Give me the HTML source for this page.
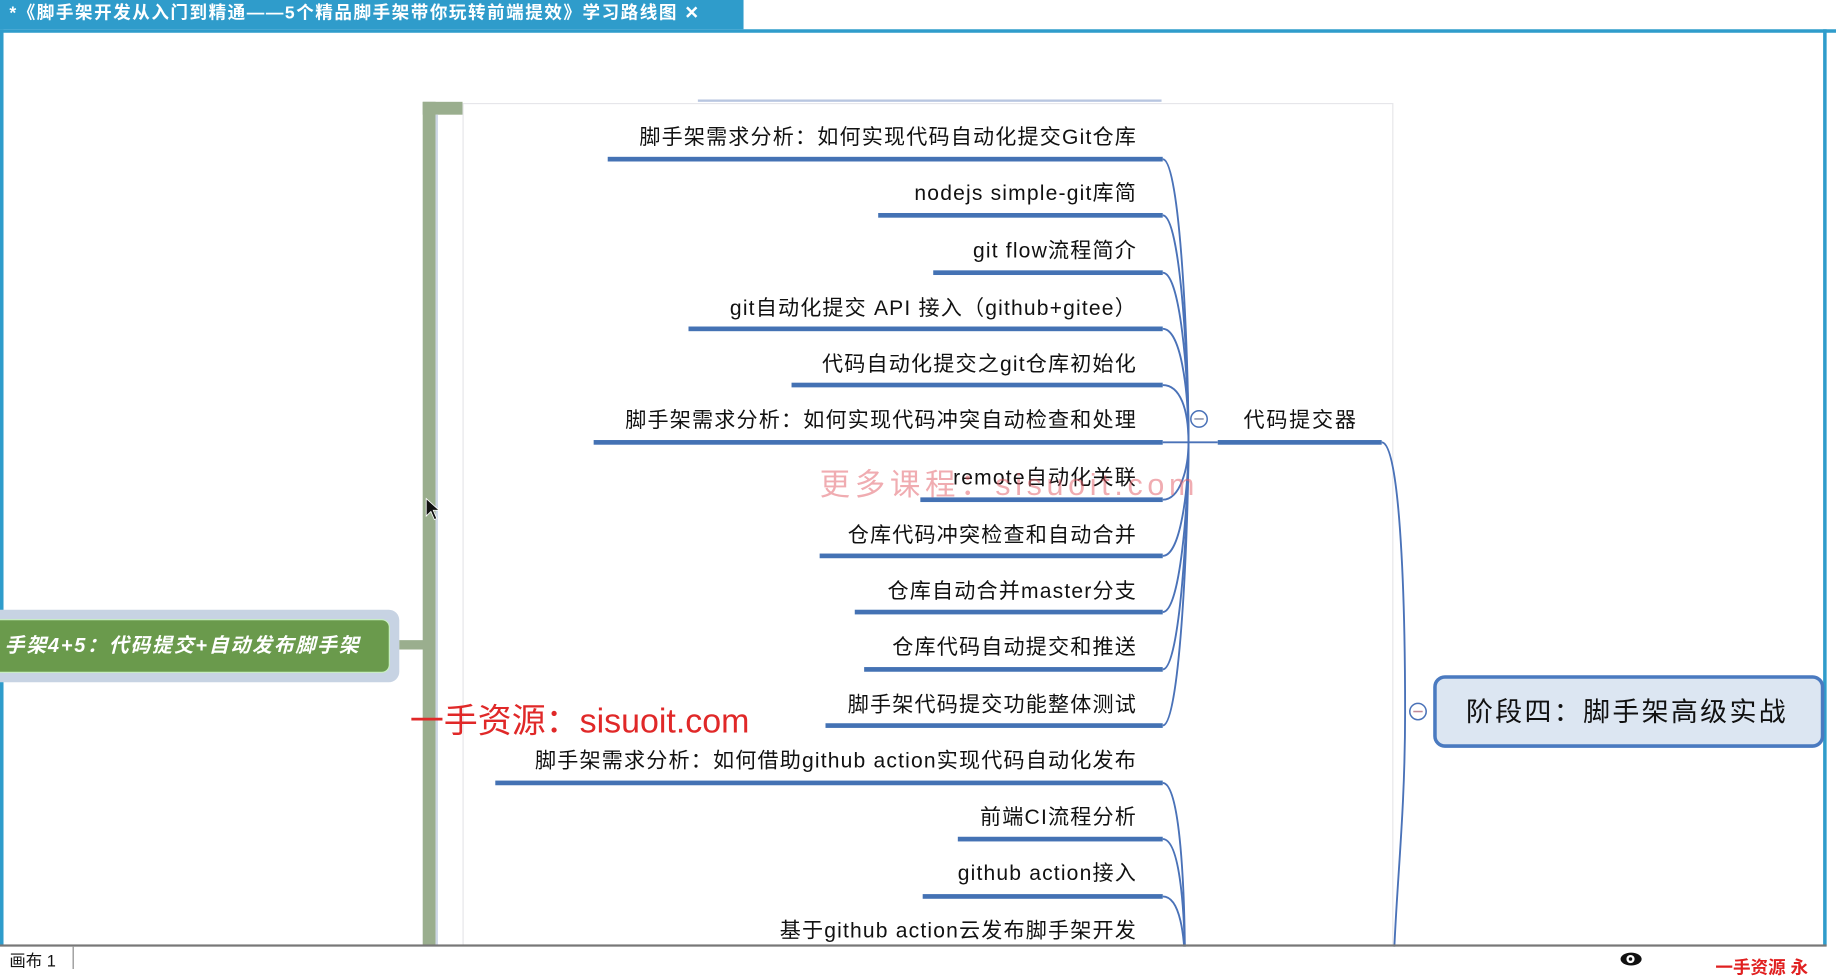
<!DOCTYPE html>
<html><head><meta charset="utf-8">
<style>
html,body{margin:0;padding:0;width:1836px;height:969px;overflow:hidden;background:#fff}
#w{position:absolute;left:0;top:0;width:1568px;height:828px;transform:scale(1.17092,1.17029);transform-origin:0 0;font-family:"Liberation Sans","Noto Sans CJK SC",sans-serif}
.a{position:absolute}
.it{position:absolute;right:597px;font-size:18px;letter-spacing:1px;color:#111;white-space:nowrap;line-height:20px}
.ul{position:absolute;height:4px;background:#4472b4;right:575px}
</style></head><body><div id="w">
<div class="a" style="left:0;top:0;width:635px;height:25px;background:#2f9ccb"></div>
<div class="a" style="left:8px;top:2px;font-size:15px;letter-spacing:1.3px;font-weight:bold;color:#fff;white-space:nowrap;line-height:20px">*《脚手架开发从入门到精通——5个精品脚手架带你玩转前端提效》学习路线图 ✕</div>
<div class="a" style="left:0;top:25px;width:1568px;height:3px;background:#2f9ccb"></div>
<div class="a" style="left:0;top:25px;width:3px;height:783px;background:#2f9ccb"></div>
<div class="a" style="left:1557px;top:25px;width:3px;height:783px;background:#2f9ccb"></div>
<div class="a" style="left:361px;top:87px;width:34px;height:11px;background:#9aae8e"></div>
<div class="a" style="left:361px;top:87px;width:11px;height:721px;background:#9aae8e"></div>
<div class="a" style="left:372px;top:98px;width:2px;height:710px;background:#cdd6e6"></div>
<div class="a" style="left:395px;top:88px;width:795px;height:720px;border:1px solid #e6e6ea;box-sizing:border-box"></div>
<div class="a" style="left:596px;top:85px;width:396px;height:2px;background:#b8c6e0"></div>
<div class="a" style="left:-10px;top:521px;width:351px;height:62px;background:#c7d3e3;border-radius:9px"></div>
<div class="a" style="left:-10px;top:529px;width:343px;height:46px;background:#6a9a4c;border-radius:7px;border:1px solid #c8f0c0;box-sizing:border-box"></div>
<div class="a" style="left:4px;top:541px;font-size:17px;letter-spacing:1.5px;font-style:italic;font-weight:bold;color:#fff;white-space:nowrap;line-height:22px">手架4+5：代码提交+自动发布脚手架</div>
<div class="a" style="left:341px;top:547px;width:21px;height:8px;background:#9aae8e"></div>
<svg class="a" style="left:0;top:0" width="1568" height="828">
<g fill="none" stroke="#4a72b8" stroke-width="1.6">
<path d="M993 136 C1008 136 1015 300 1015 378"/>
<path d="M993 184 C1008 184 1015 310 1015 378"/>
<path d="M993 233 C1008 233 1015 320 1015 378"/>
<path d="M993 281 C1008 281 1015 330 1015 378"/>
<path d="M993 329 C1008 329 1015 350 1015 378"/>
<path d="M993 378 L1040 378"/>
<path d="M993 427 C1008 427 1015 400 1015 378"/>
<path d="M993 475 C1008 475 1015 420 1015 378"/>
<path d="M993 523 C1008 523 1015 430 1015 378"/>
<path d="M993 572 C1008 572 1015 440 1015 378"/>
<path d="M993 620 C1008 620 1015 450 1015 378"/>
<path d="M993 669 C1008 669 1012 760 1012 830"/>
<path d="M993 717 C1008 717 1012 780 1012 830"/>
<path d="M993 766 C1008 766 1012 800 1012 830"/>
<path d="M1180 378 C1195 378 1200 500 1200 608"/>
<path d="M1200 608 C1200 700 1192 760 1190 830"/>
</g>
<circle cx="1024" cy="358" r="7" fill="#fff" stroke="#4a72b8" stroke-width="1.3"/>
<line x1="1020" y1="358" x2="1028" y2="358" stroke="#8890a8" stroke-width="1.3"/>
<circle cx="1211" cy="608" r="7" fill="#fff" stroke="#4a72b8" stroke-width="1.3"/>
<line x1="1207" y1="608" x2="1215" y2="608" stroke="#c08898" stroke-width="1.3"/>
<path d="M364 426 L364 441 L368 437 L371 444 L373 443 L370 436 L375 436 Z" fill="#111" stroke="#fff" stroke-width="0.7"/>
</svg>
<div class="it" style="top:107px">脚手架需求分析：如何实现代码自动化提交Git仓库</div><div class="ul" style="top:134px;left:519px"></div>
<div class="it" style="top:155px">nodejs simple-git库简</div><div class="ul" style="top:182px;left:750px"></div>
<div class="it" style="top:204px">git flow流程简介</div><div class="ul" style="top:231px;left:797px"></div>
<div class="it" style="top:253px">git自动化提交 API 接入（github+gitee）</div><div class="ul" style="top:279px;left:588px"></div>
<div class="it" style="top:301px">代码自动化提交之git仓库初始化</div><div class="ul" style="top:327px;left:676px"></div>
<div class="it" style="top:349px">脚手架需求分析：如何实现代码冲突自动检查和处理</div><div class="ul" style="top:376px;left:507px"></div>
<div class="it" style="top:398px">remote自动化关联</div><div class="ul" style="top:425px;left:786px"></div>
<div class="it" style="top:447px">仓库代码冲突检查和自动合并</div><div class="ul" style="top:473px;left:700px"></div>
<div class="it" style="top:495px">仓库自动合并master分支</div><div class="ul" style="top:521px;left:730px"></div>
<div class="it" style="top:543px">仓库代码自动提交和推送</div><div class="ul" style="top:570px;left:738px"></div>
<div class="it" style="top:592px">脚手架代码提交功能整体测试</div><div class="ul" style="top:618px;left:705px"></div>
<div class="it" style="top:640px">脚手架需求分析：如何借助github action实现代码自动化发布</div><div class="ul" style="top:667px;left:423px"></div>
<div class="it" style="top:688px">前端CI流程分析</div><div class="ul" style="top:715px;left:818px"></div>
<div class="it" style="top:736px">github action接入</div><div class="ul" style="top:764px;left:788px"></div>
<div class="it" style="top:785px">基于github action云发布脚手架开发</div>
<div class="a" style="left:1062px;top:349px;font-size:18px;letter-spacing:1.5px;line-height:20px;color:#111">代码提交器</div>
<div class="a" style="left:1040px;top:376px;width:140px;height:4px;background:#4472b4"></div>
<div class="a" style="left:1224px;top:577px;width:334px;height:62px;background:#dce6f2;border:3px solid #4a7ac0;border-radius:10px;box-sizing:border-box"></div>
<div class="a" style="left:1252px;top:594px;font-size:23px;letter-spacing:2px;line-height:28px;color:#111;white-space:nowrap">阶段四：脚手架高级实战</div>
<div class="a" style="left:700px;top:394px;font-size:26px;letter-spacing:4px;color:rgba(225,90,100,.5);white-space:nowrap">更多课程：sisuoit.com</div>
<div class="a" style="left:350px;top:593px;font-size:29px;color:#e02828;white-space:nowrap">一手资源：sisuoit.com</div>
<div class="a" style="left:0;top:807px;width:1560px;height:2px;background:#777"></div>
<div class="a" style="left:0;top:809px;width:1568px;height:19px;background:#fff"></div>
<div class="a" style="left:8px;top:811px;font-size:14px;color:#111">画布 1</div>
<div class="a" style="left:62px;top:809px;width:1px;height:19px;background:#888"></div>
<div class="a" style="left:1384px;top:814px;width:18px;height:11px;border-radius:50%;background:#111"></div>
<div class="a" style="left:1389px;top:816px;width:7px;height:7px;border-radius:50%;background:#fff"></div>
<div class="a" style="left:1391px;top:818px;width:3px;height:3px;border-radius:50%;background:#111"></div>
<div class="a" style="left:1465px;top:816px;font-size:15px;font-weight:bold;color:#e02020;white-space:nowrap">一手资源 永</div>
</div></body></html>
